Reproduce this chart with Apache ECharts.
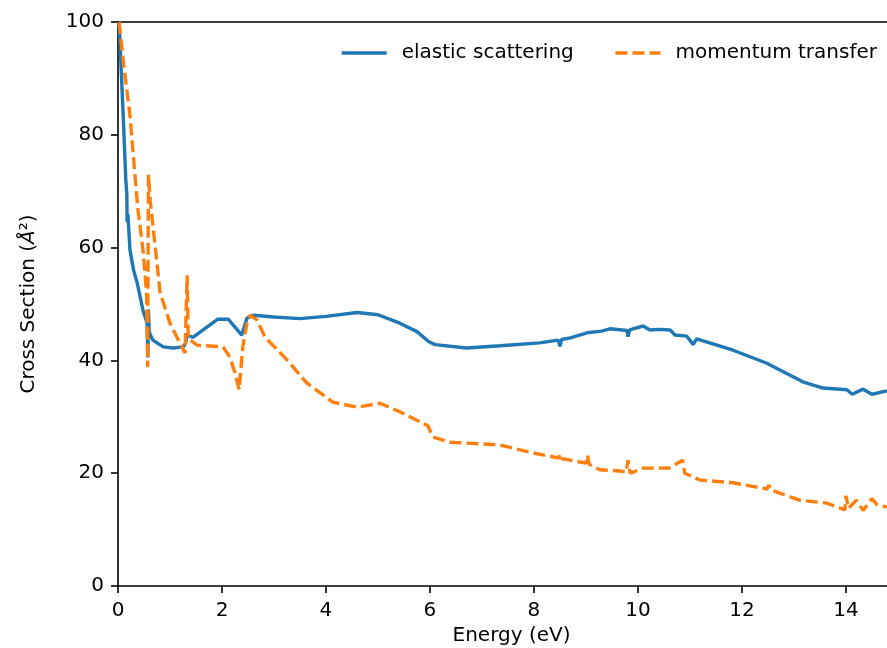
<!DOCTYPE html>
<html>
<head>
<meta charset="utf-8">
<script src="https://cdn.jsdelivr.net/npm/echarts@6/dist/echarts.min.js"></script>
<style>
  html, body { margin: 0; padding: 0; background: #fff; }
  #chart { width: 887px; height: 648px; }
</style>
</head>
<body>
<div id="chart"></div>
<script>
    // energies (eV) and cross sections (A^2)
    var elasticE = [0.02, 0.04, 0.1, 0.15, 0.17, 0.175, 0.19, 0.23, 0.3, 0.37, 0.48, 0.56, 0.575, 0.585, 0.6, 0.67, 0.87,
        1.06, 1.25, 1.3, 1.33, 1.44, 1.71, 1.92, 2.12, 2.25, 2.38, 2.48, 2.6, 3.0, 3.5, 4.0, 4.6, 5.0, 5.42, 5.75, 5.98,
        6.1, 6.7, 7.35, 8.11, 8.47, 8.5, 8.53, 8.7, 9.02, 9.3, 9.46, 9.79, 9.81, 9.84, 10.1, 10.23, 10.4, 10.62, 10.71,
        10.94, 11.06, 11.13, 11.83, 12.48, 12.73, 13.17, 13.56, 14.02, 14.12, 14.33, 14.5, 14.79];
    var elasticCS = [100, 96, 83.5, 72, 69.5, 64.5, 66, 59.6, 56, 53.7, 48.9, 46.6, 40.5, 49, 45, 43.6, 42.4,
        42.2, 42.4, 43, 44.5, 44.1, 45.9, 47.3, 47.3, 45.9, 44.5, 47.5, 48, 47.7, 47.4, 47.8, 48.5, 48.1, 46.6, 45.1, 43.3,
        42.8, 42.2, 42.6, 43.1, 43.6, 42.5, 43.7, 44.0, 44.9, 45.2, 45.6, 45.3, 44.2, 45.4, 46.1, 45.4, 45.5, 45.4, 44.5,
        44.3, 42.8, 43.8, 41.8, 39.5, 38.3, 36.2, 35.1, 34.8, 34.0, 34.9, 34.0, 34.6];

    var momentumE = [0.02, 0.11, 0.23, 0.31, 0.38, 0.48, 0.55, 0.57, 0.585, 0.62, 0.81, 1.0, 1.19, 1.29, 1.33, 1.35,
        1.39, 1.52, 2.02, 2.15, 2.25, 2.33, 2.4, 2.48, 2.54, 2.67, 2.83, 3.25, 3.63, 4.13, 4.6, 5.04, 5.42, 5.96, 6.06,
        6.38, 7.35, 7.98, 8.48, 8.5, 8.53, 9.0, 9.03, 9.06, 9.27, 9.65, 9.77, 9.81, 9.85, 10.1, 10.6, 10.86, 10.9, 11.19,
        11.83, 12.48, 12.52, 12.56, 13.12, 13.63, 13.98, 14.0, 14.05, 14.2, 14.33, 14.5, 14.6, 14.79];
    var momentumCS = [100, 92.4, 83.5, 74.6, 67, 59.6, 52, 38.8, 72.9, 68.4, 52, 46.6, 43.1, 41.3, 55.1, 44,
        43.6, 42.7, 42.4, 40.6, 37.8, 34.8, 42.4, 46.6, 48, 47.2, 44.1, 40.1, 36, 32.6, 31.7, 32.4, 30.9, 28.4, 26.4,
        25.5, 25, 23.6, 22.7, 23.4, 22.6, 21.8, 23.2, 21.6, 20.6, 20.4, 20.2, 22.3, 20.0, 20.9, 20.9, 22.3, 20.0, 18.8,
        18.3, 17.2, 17.9, 17.0, 15.2, 14.7, 13.5, 16, 13.8, 15.2, 13.4, 15.5, 14.4, 14];

    var xTicks = [0, 2, 4, 6, 8, 10, 12, 14];

    function pairs(xs, ys) {
        var out = [];
        for (var i = 0; i < xs.length; i++) out.push([xs[i], ys[i]]);
        return out;
    }

    var font = 'DejaVu Sans';
    var myChart = echarts.init(document.getElementById('chart'));

    var option = {
        animation: false,
        textStyle: { fontFamily: font },
        grid: { left: 118, right: 0, top: 22, bottom: 62, outerBoundsMode: 'none' },
        legend: {
            right: 5,
            top: 38,
            itemWidth: 45,
            itemHeight: 14,
            itemGap: 40,
            itemStyle: { opacity: 0 },
            lineStyle: { width: 3.4 },
            textStyle: { fontFamily: font, fontSize: 20, color: '#000', padding: [0, 0, 0, 10] },
            data: ['elastic scattering', 'momentum transfer']
        },
        xAxis: [{
            type: 'value',
            min: 0,
            max: 14.79,
            name: 'Energy (eV)',
            nameLocation: 'middle',
            nameGap: 36,
            nameTextStyle: { fontFamily: font, fontSize: 20, color: '#000', padding: [0, 0, 0, 18] },
            axisLine: { lineStyle: { color: '#000', width: 1.6 } },
            axisTick: { inside: false, length: 7, lineStyle: { width: 1.6 }, customValues: xTicks },
            axisLabel: { fontSize: 20, color: '#000', margin: 15, customValues: xTicks },
            splitLine: { show: false }
        }, {
            type: 'value',
            position: 'top',
            min: 0,
            max: 14.79,
            axisLine: { show: true, lineStyle: { color: '#000', width: 1.6 } },
            axisTick: { show: false },
            axisLabel: { show: false },
            splitLine: { show: false }
        }],
        yAxis: {
            type: 'value',
            min: 0,
            max: 100,
            interval: 20,
            name: 'Cross Section ({i|Å}²)',
            nameLocation: 'middle',
            nameGap: 79,
            nameRotate: 90,
            nameTextStyle: {
                fontFamily: font, fontSize: 20, color: '#000',
                rich: { i: { fontFamily: font, fontSize: 20, fontStyle: 'italic', color: '#000' } }
            },
            axisLine: { show: true, lineStyle: { color: '#000', width: 1.6 } },
            axisTick: { show: true, inside: false, length: 7, lineStyle: { width: 1.6 } },
            axisLabel: { fontSize: 20, color: '#000', margin: 14 },
            splitLine: { show: false }
        },
        series: [{
            name: 'elastic scattering',
            type: 'line',
            symbol: 'none',
            data: pairs(elasticE, elasticCS),
            lineStyle: { color: '#1f77b4', width: 3.4 },
            itemStyle: { color: '#1f77b4' }
        }, {
            name: 'momentum transfer',
            type: 'line',
            symbol: 'none',
            data: pairs(momentumE, momentumCS),
            lineStyle: { color: '#ff7f0e', width: 3.4, type: [12, 5] },
            itemStyle: { color: '#ff7f0e' }
        }]
    };

    myChart.setOption(option);
</script>
</body>
</html>
